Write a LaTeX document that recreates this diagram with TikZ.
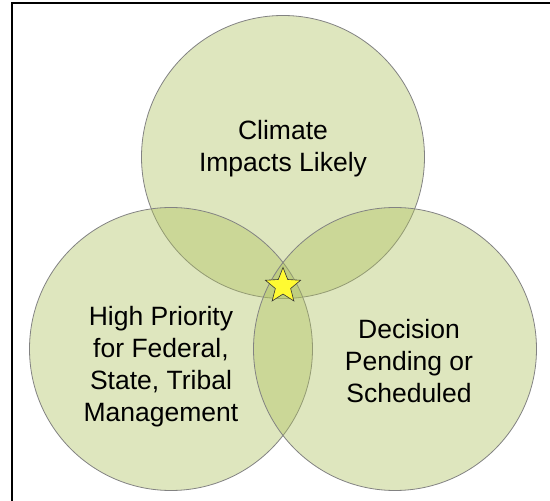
\documentclass[tikz,border=0pt]{standalone}
\usepackage{fontspec}
\setmainfont{Liberation Sans}
\usetikzlibrary{shapes.geometric}

\definecolor{vennfill}{RGB}{173,192,93}
\definecolor{venndraw}{RGB}{130,130,130}
\definecolor{staryellow}{RGB}{255,250,50}

\begin{document}
\begin{tikzpicture}[x=1pt,y=1pt]
	\useasboundingbox (0,0) rectangle (550,501);
	\tikzset{
		venn/.style={fill=vennfill,fill opacity=0.4,draw=venndraw,line width=0.8pt},
		label/.style={align=center,font=\fontsize{26.5}{32}\selectfont}
	}
	
	% frame
	\draw[line width=2pt](12,0)--(12,498)--(550,498);
	
	% circles
	\draw[venn](283,344) circle [radius=141.5];
	\draw[venn](171,152) circle [radius=141.5];
	\draw[venn](395,152) circle [radius=141.5];
	
	% labels
	\node[label] (climate) at (283,352) {Climate\\Impacts Likely};
	\node[label] (priority) at (161,134.5) {High Priority\\for Federal,\\State, Tribal\\Management};
	\node[label] (decision) at (409,140) {Decision\\Pending or\\Scheduled};
	
	% star
	\node[star,star points=5,star point ratio=2.3,minimum size=37pt,inner sep=0pt,
		fill=staryellow,draw=black!80,line width=0.6pt] (center) at (283,215) {};
\end{tikzpicture}
\end{document}
